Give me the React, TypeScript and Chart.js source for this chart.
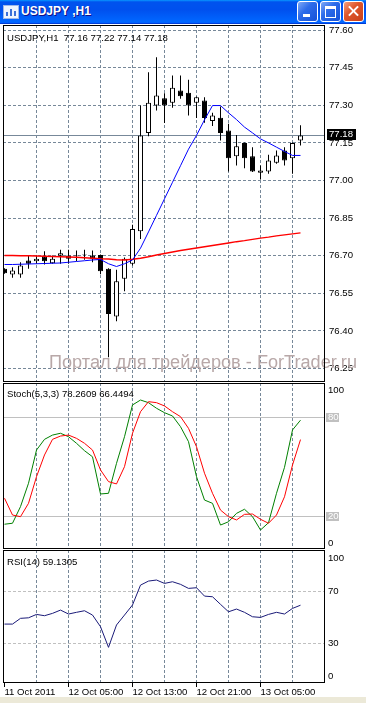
import React, { useEffect, useRef } from "react";
import { Chart, registerables } from "chart.js";
Chart.register(...registerables);

// ---------------- data ----------------
const barTimes = [
  "11 Oct 21:00", "11 Oct 22:00", "11 Oct 23:00",
  "12 Oct 00:00", "12 Oct 01:00", "12 Oct 02:00", "12 Oct 03:00", "12 Oct 04:00", "12 Oct 05:00", "12 Oct 06:00", "12 Oct 07:00",
  "12 Oct 08:00", "12 Oct 09:00", "12 Oct 10:00", "12 Oct 11:00", "12 Oct 12:00", "12 Oct 13:00", "12 Oct 14:00", "12 Oct 15:00",
  "12 Oct 16:00", "12 Oct 17:00", "12 Oct 18:00", "12 Oct 19:00", "12 Oct 20:00", "12 Oct 21:00", "12 Oct 22:00", "12 Oct 23:00",
  "13 Oct 00:00", "13 Oct 01:00", "13 Oct 02:00", "13 Oct 03:00", "13 Oct 04:00", "13 Oct 05:00", "13 Oct 06:00", "13 Oct 07:00",
  "13 Oct 08:00", "13 Oct 09:00", "13 Oct 10:00",
];
const timeAxisLabels = ["11 Oct 2011", "12 Oct 05:00", "12 Oct 13:00", "12 Oct 21:00", "13 Oct 05:00"];

const opens = [
  76.648, 76.625, 76.625, 76.681, 76.678, 76.698, 76.670, 76.700, 76.701, 76.702,
  76.704, 76.701, 76.703, 76.648, 76.458, 76.608, 76.668, 76.798, 77.190, 77.299,
  77.328, 77.310, 77.359, 77.350, 77.310, 77.319, 77.237, 77.250, 77.199, 77.097,
  77.150, 77.097, 77.031, 77.036, 77.071, 77.120, 77.089, 77.16,
];
const highs = [
  76.650, 76.654, 76.674, 76.701, 76.701, 76.718, 76.701, 76.724, 76.724, 76.721,
  76.724, 76.721, 76.705, 76.650, 76.644, 76.693, 76.824, 77.299, 77.432, 77.492,
  77.348, 77.419, 77.419, 77.402, 77.335, 77.332, 77.270, 77.295, 77.226, 77.182,
  77.152, 77.133, 77.060, 77.103, 77.120, 77.133, 77.152, 77.22,
];
const lows = [
  76.628, 76.612, 76.612, 76.648, 76.668, 76.665, 76.668, 76.668, 76.668, 76.678,
  76.684, 76.674, 76.626, 76.295, 76.439, 76.558, 76.661, 76.767, 77.177, 77.279,
  77.229, 77.290, 77.326, 77.259, 77.249, 77.230, 77.217, 77.160, 77.036, 77.060,
  77.049, 77.034, 77.004, 77.027, 77.067, 77.060, 77.027, 77.14,
];
const closes = [
  76.630, 76.641, 76.661, 76.668, 76.688, 76.678, 76.688, 76.710, 76.688, 76.700,
  76.706, 76.688, 76.638, 76.468, 76.598, 76.688, 76.807, 77.180, 77.310, 77.339,
  77.299, 77.370, 77.336, 77.299, 77.332, 77.249, 77.259, 77.190, 77.089, 77.137,
  77.089, 77.036, 77.040, 77.080, 77.100, 77.080, 77.150, 77.18,
];
const maFast = [
  76.665, 76.665, 76.666, 76.667, 76.668, 76.669, 76.670, 76.671, 76.674, 76.677,
  76.680, 76.683, 76.685, 76.668, 76.657, 76.668, 76.683, 76.730, 76.795, 76.861,
  76.927, 76.993, 77.059, 77.125, 77.180, 77.242, 77.299, 77.299, 77.270, 77.243,
  77.213, 77.190, 77.166, 77.150, 77.133, 77.116, 77.100, 77.100,
];
const maSlow = [
  76.701, 76.701, 76.700, 76.700, 76.699, 76.698, 76.697, 76.696, 76.695, 76.694,
  76.692, 76.690, 76.688, 76.687, 76.684, 76.683, 76.686, 76.690, 76.696, 76.703,
  76.709, 76.715, 76.721, 76.726, 76.731, 76.736, 76.741, 76.746, 76.751, 76.756,
  76.760, 76.765, 76.770, 76.774, 76.779, 76.783, 76.787, 76.791,
];
const stochMain = [
  15.0, 15.6, 25.7, 39.9, 60.1, 66.6, 69.2, 70.3, 68.2, 64.2,
  59.7, 56.0, 33.4, 33.8, 52.0, 68.2, 87.5, 90.5, 88.9, 85.5,
  82.8, 80.8, 74.3, 65.2, 43.9, 29.7, 27.7, 14.5, 16.5, 21.6,
  24.1, 19.6, 11.5, 15.9, 33.8, 49.6, 72.3, 78.2609,
];
const stochSignal = [
  30.8, 20.6, 19.6, 27.7, 43.9, 57.1, 66.6, 68.6, 69.2, 67.2,
  64.2, 60.1, 48.0, 40.9, 39.5, 50.0, 70.3, 83.4, 89.5, 88.9,
  86.9, 83.4, 80.4, 73.3, 62.1, 46.0, 33.8, 23.6, 19.6, 17.6,
  21.0, 21.2, 18.0, 15.6, 20.6, 31.7, 51.0, 66.4494,
];
const rsiValues = [
  44.7, 44.7, 49.1, 49.5, 52.1, 51.1, 52.9, 55.4, 52.4, 53.7,
  54.9, 51.6, 42.7, 26.9, 44.0, 51.6, 59.3, 74.5, 77.6, 78.4,
  75.8, 77.1, 75.1, 72.0, 72.5, 66.1, 65.6, 59.8, 54.1, 56.2,
  53.7, 50.3, 49.8, 52.1, 53.7, 52.4, 56.7, 59.1305,
];
const priceTicks = [76.25, 76.4, 76.55, 76.7, 76.85, 77.0, 77.15, 77.3, 77.45, 77.6];
const stochLevels = [20, 80];
const stochAxisLabels = [0, 20, 80, 100];
const rsiLevels = [30, 70];
const rsiAxisLabels = [0, 30, 70, 100];

const symbolName = "USDJPY";
const periodName = "H1";
const watermark = "Портал для трейдеров - ForTrader.ru";

// ---------------- styling ----------------
const GRID = "#778899";
const LEVEL = "#c0c0c0";
const FONT = '"Liberation Sans", Arial, sans-serif';
const FS = 9.6;
const X_MIN = -0.1875;
const X_MAX = 40.0625;
const CLEAR = "rgba(0,0,0,0)";

Chart.defaults.font.family = FONT;

function labelFor(i: number): string {
  if (i === 0) return timeAxisLabels[0];
  const t = barTimes[i];
  return t && timeAxisLabels.includes(t) ? t : "";
}

function xAxis(withLabels: boolean): any {
  return {
    type: "linear",
    min: X_MIN,
    max: X_MAX,
    bounds: "data",
    offset: false,
    afterBuildTicks: (s: any) => {
      const t: any[] = [];
      for (let i = 0; i < barTimes.length; i += 4) t.push({ value: i });
      s.ticks = t;
    },
    afterFit: (s: any) => {
      s.height = withLabels ? 14 : 0;
      s.paddingLeft = 0;
      s.paddingRight = 0;
      s.paddingTop = 0;
      s.paddingBottom = 0;
    },
    grid: {
      display: true,
      offset: false,
      drawOnChartArea: true,
      drawTicks: withLabels,
      tickLength: 4,
      lineWidth: 1,
      tickWidth: 1,
      color: (c: any) => (c.tick && c.tick.value === 0 ? CLEAR : GRID),
      tickColor: (c: any) => (c.tick && labelFor(c.tick.value) ? "#000" : CLEAR),
    },
    border: { display: false, dash: [3, 2] },
    ticks: {
      display: withLabels,
      autoSkip: false,
      maxRotation: 0,
      minRotation: 0,
      align: "start",
      padding: 0,
      color: "#000",
      font: { family: FONT, size: FS },
      callback: (v: any) => labelFor(Number(v)),
    },
  };
}

function baseOptions(): any {
  return {
    responsive: false,
    maintainAspectRatio: false,
    animation: false,
    devicePixelRatio: 1,
    events: [],
    layout: { padding: { left: 3, right: 0, top: 0, bottom: 0 }, autoPadding: false },
    plugins: { legend: { display: false }, tooltip: { enabled: false }, title: { display: false } },
  };
}

const framePlugin = {
  id: "frame",
  afterDraw(chart: any) {
    const { ctx, chartArea: a } = chart;
    ctx.save();
    ctx.strokeStyle = "#000";
    ctx.lineWidth = 1;
    ctx.strokeRect(a.left + 0.5, a.top + 0.5, a.right - a.left - 1, a.bottom - a.top - 1);
    ctx.restore();
  },
};

function linePts(values: number[]) {
  return values.map((v, i) => ({ x: i, y: v }));
}

function mainConfig(): any {
  const last = closes.length - 1;
  const opts = baseOptions();
  opts.scales = {
    x: xAxis(false),
    y: {
      type: "linear",
      position: "right",
      min: 76.1963,
      max: 77.6203,
      bounds: "data",
      afterBuildTicks: (s: any) => {
        s.ticks = priceTicks.map((v) => ({ value: v }));
      },
      afterFit: (s: any) => {
        s.width = 41;
        s.paddingTop = 0;
        s.paddingBottom = 0;
      },
      grid: { color: GRID, drawTicks: false, lineWidth: 1 },
      border: { display: false, dash: [3, 2] },
      ticks: {
        color: "#000",
        padding: 4,
        crossAlign: "near",
        autoSkip: false,
        font: { family: FONT, size: FS },
        callback: (v: any) => Number(v).toFixed(2),
      },
    },
  };
  const overlay = {
    id: "mainOverlay",
    beforeDatasetsDraw(chart: any) {
      const { ctx, chartArea: a, scales } = chart;
      // watermark
      ctx.save();
      ctx.font = `18px ${FONT}`;
      ctx.fillStyle = "#b8a8a8";
      ctx.textBaseline = "alphabetic";
      ctx.textAlign = "left";
      const w = ctx.measureText(watermark).width;
      ctx.translate(49, 343);
      ctx.scale(308 / w, 1);
      ctx.fillText(watermark, 0, 0);
      ctx.restore();
      // bid line
      const py = Math.round(scales.y.getPixelForValue(closes[last])) + 0.5;
      ctx.save();
      ctx.strokeStyle = GRID;
      ctx.lineWidth = 1;
      ctx.beginPath();
      ctx.moveTo(a.left, py);
      ctx.lineTo(a.right, py);
      ctx.stroke();
      ctx.restore();
    },
    afterDraw(chart: any) {
      const { ctx, chartArea: a, scales } = chart;
      const py = scales.y.getPixelForValue(closes[last]);
      const label = closes[last].toFixed(2);
      ctx.save();
      ctx.font = `${FS}px ${FONT}`;
      const tw = ctx.measureText(label).width;
      ctx.fillStyle = "#000";
      ctx.fillRect(a.right + 2, Math.round(py) - 6, Math.ceil(tw) + 4, 11);
      ctx.fillStyle = "#fff";
      ctx.textBaseline = "middle";
      ctx.textAlign = "left";
      ctx.fillText(label, a.right + 4, Math.round(py) - 0.5);
      ctx.fillStyle = "#000";
      ctx.textBaseline = "alphabetic";
      const head = `${symbolName},${periodName}  ${opens[last].toFixed(2)} ${highs[last].toFixed(2)} ${lows[last].toFixed(2)} ${closes[last].toFixed(2)}`;
      ctx.fillText(head, 7, 15.5);
      ctx.restore();
    },
  };
  return {
    type: "bar",
    data: {
      datasets: [
        {
          type: "line",
          label: "MA fast",
          data: linePts(maFast),
          borderColor: "#0000ff",
          borderWidth: 1,
          pointRadius: 0,
          tension: 0,
          fill: false,
        },
        {
          type: "line",
          label: "MA slow",
          data: linePts(maSlow),
          borderColor: "#ff0000",
          borderWidth: 1.4,
          pointRadius: 0,
          tension: 0,
          fill: false,
        },
        {
          type: "bar",
          label: "body",
          data: opens.map((o, i) => ({ x: i, y: [o, closes[i]] })),
          backgroundColor: opens.map((o, i) => (closes[i] >= o ? "#ffffff" : "#000000")),
          borderColor: "#000",
          borderWidth: 1,
          borderSkipped: false,
          barThickness: 5,
          grouped: false,
          inflateAmount: 0,
        },
        {
          type: "bar",
          label: "wick",
          data: lows.map((l, i) => ({ x: i, y: [l, highs[i]] })),
          backgroundColor: "#000",
          borderWidth: 0,
          barThickness: 1,
          grouped: false,
          inflateAmount: 0,
        },
      ],
    },
    options: opts,
    plugins: [overlay, framePlugin],
  };
}

function stochConfig(): any {
  const opts = baseOptions();
  const last = stochMain.length - 1;
  opts.scales = {
    x: xAxis(false),
    y: {
      type: "linear",
      position: "right",
      min: -0.06,
      max: 100.85,
      bounds: "data",
      afterBuildTicks: (s: any) => {
        s.ticks = stochLevels.map((v) => ({ value: v }));
      },
      afterFit: (s: any) => {
        s.width = 41;
        s.paddingTop = 0;
        s.paddingBottom = 0;
      },
      grid: { color: LEVEL, drawTicks: false, lineWidth: 1 },
      border: { display: false, dash: [] },
      ticks: { display: false },
    },
  };
  const overlay = {
    id: "stochOverlay",
    afterDraw(chart: any) {
      const { ctx, chartArea: a, scales } = chart;
      ctx.save();
      ctx.font = `${FS}px ${FONT}`;
      ctx.textAlign = "left";
      ctx.textBaseline = "middle";
      stochAxisLabels.forEach((v) => {
        let py = scales.y.getPixelForValue(v);
        py = Math.min(Math.max(py, a.top + 7), a.bottom - 6);
        if (stochLevels.includes(v)) {
          ctx.fillStyle = LEVEL;
          ctx.fillRect(a.right + 1, Math.round(py) - 4, 13, 9);
          ctx.fillStyle = "#fff";
        } else {
          ctx.fillStyle = "#000";
        }
        ctx.fillText(String(v), a.right + 3, py);
      });
      ctx.fillStyle = "#000";
      ctx.textBaseline = "alphabetic";
      ctx.fillText(`Stoch(5,3,3) ${stochMain[last].toFixed(4)} ${stochSignal[last].toFixed(4)}`, 7, 14.3);
      ctx.restore();
    },
  };
  return {
    type: "line",
    data: {
      datasets: [
        { label: "Signal", data: linePts(stochSignal), borderColor: "#ff0000", borderWidth: 1, pointRadius: 0, tension: 0, fill: false },
        { label: "Main", data: linePts(stochMain), borderColor: "#008000", borderWidth: 1, pointRadius: 0, tension: 0, fill: false },
      ],
    },
    options: opts,
    plugins: [overlay, framePlugin],
  };
}

function rsiConfig(): any {
  const opts = baseOptions();
  const last = rsiValues.length - 1;
  opts.scales = {
    x: xAxis(true),
    y: {
      type: "linear",
      position: "right",
      min: -0.36,
      max: 101.36,
      bounds: "data",
      afterBuildTicks: (s: any) => {
        s.ticks = rsiLevels.map((v) => ({ value: v }));
      },
      afterFit: (s: any) => {
        s.width = 41;
        s.paddingTop = 0;
        s.paddingBottom = 0;
      },
      grid: { color: LEVEL, drawTicks: false, lineWidth: 1 },
      border: { display: false, dash: [3, 2] },
      ticks: { display: false },
    },
  };
  const overlay = {
    id: "rsiOverlay",
    afterDraw(chart: any) {
      const { ctx, chartArea: a, scales } = chart;
      ctx.save();
      ctx.font = `${FS}px ${FONT}`;
      ctx.textAlign = "left";
      ctx.textBaseline = "middle";
      ctx.fillStyle = "#000";
      rsiAxisLabels.forEach((v) => {
        let py = scales.y.getPixelForValue(v);
        py = Math.min(Math.max(py, a.top + 8), a.bottom - 7);
        ctx.fillText(String(v), a.right + 3, py);
      });
      ctx.textBaseline = "alphabetic";
      ctx.fillText(`RSI(14) ${rsiValues[last].toFixed(4)}`, 7, 15);
      ctx.restore();
    },
  };
  return {
    type: "line",
    data: {
      datasets: [
        { label: "RSI", data: linePts(rsiValues), borderColor: "#1a1a78", borderWidth: 1, pointRadius: 0, tension: 0, fill: false },
      ],
    },
    options: opts,
    plugins: [overlay, framePlugin],
  };
}

function ChartCanvas({ top, height, make }: { top: number; height: number; make: () => any }) {
  const ref = useRef<HTMLCanvasElement | null>(null);
  useEffect(() => {
    if (!ref.current) return;
    const c = new Chart(ref.current, make());
    return () => c.destroy();
  }, []);
  return (
    <canvas
      ref={ref}
      width={366}
      height={height}
      style={{ position: "absolute", left: 0, top, width: 366, height, display: "block" }}
    />
  );
}

function TitleBar() {
  const btn: React.CSSProperties = {
    position: "absolute",
    top: 1,
    width: 19,
    height: 19,
    border: "1px solid #fff",
    borderRadius: 3,
    background: "linear-gradient(135deg,#7fa9f6 0%,#2d6cea 40%,#1551d8 100%)",
    boxSizing: "content-box",
  };
  return (
    <div
      style={{
        position: "absolute",
        left: 0,
        top: 0,
        width: 366,
        height: 24,
        background:
          "linear-gradient(180deg,#0997ff,#0053ee 8%,#0050ee 40%,#06f 88%,#06f 93%,#005bff 95%,#003dd7 96%,#003dd7)",
      }}
    >
      <div
        style={{
          position: "absolute",
          left: 3,
          top: 5,
          width: 14,
          height: 12,
          background: "#eef4ff",
          border: "1px solid #9fb7e8",
        }}
      >
        <div style={{ position: "absolute", left: 2, top: 6, width: 2, height: 4, background: "#3a6fd8" }} />
        <div style={{ position: "absolute", left: 6, top: 3, width: 2, height: 7, background: "#3a6fd8" }} />
        <div style={{ position: "absolute", left: 10, top: 5, width: 2, height: 5, background: "#3a6fd8" }} />
      </div>
      <div
        style={{
          position: "absolute",
          left: 21,
          top: 3,
          color: "#fff",
          font: `bold 12px ${FONT}`,
          lineHeight: "16px",
          textShadow: "1px 1px #0f1089",
          whiteSpace: "pre",
        }}
      >
        {`${symbolName} ,${periodName}`}
      </div>
      <div style={{ ...btn, left: 297 }}>
        <div style={{ position: "absolute", left: 5, top: 12, width: 7, height: 3, background: "#fff" }} />
      </div>
      <div style={{ ...btn, left: 320 }}>
        <div
          style={{
            position: "absolute",
            left: 4,
            top: 4,
            width: 9,
            height: 8,
            borderStyle: "solid",
            borderColor: "#fff",
            borderWidth: "3px 1px 1px 1px",
          }}
        />
      </div>
      <div
        style={{
          ...btn,
          left: 343,
          background: "linear-gradient(135deg,#f3a07f 0%,#e0582d 40%,#c8401a 100%)",
        }}
      >
        <div
          style={{
            position: "absolute",
            left: 3,
            top: 8,
            width: 13,
            height: 2,
            background: "#fff",
            transform: "rotate(45deg)",
          }}
        />
        <div
          style={{
            position: "absolute",
            left: 3,
            top: 8,
            width: 13,
            height: 2,
            background: "#fff",
            transform: "rotate(-45deg)",
          }}
        />
      </div>
    </div>
  );
}

export default function App() {
  useEffect(() => {
    document.body.style.margin = "0";
  }, []);
  return (
    <div
      style={{
        position: "fixed",
        left: 0,
        top: 0,
        width: 366,
        height: 703,
        overflow: "hidden",
        background: "#ffffff",
      }}
    >
      <TitleBar />
      <ChartCanvas top={25} height={357} make={mainConfig} />
      <ChartCanvas top={383} height={166} make={stochConfig} />
      <ChartCanvas top={550} height={147} make={rsiConfig} />
      <div style={{ position: "absolute", left: 0, top: 697, width: 366, height: 6, background: "#ece9d8" }} />
    </div>
  );
}
